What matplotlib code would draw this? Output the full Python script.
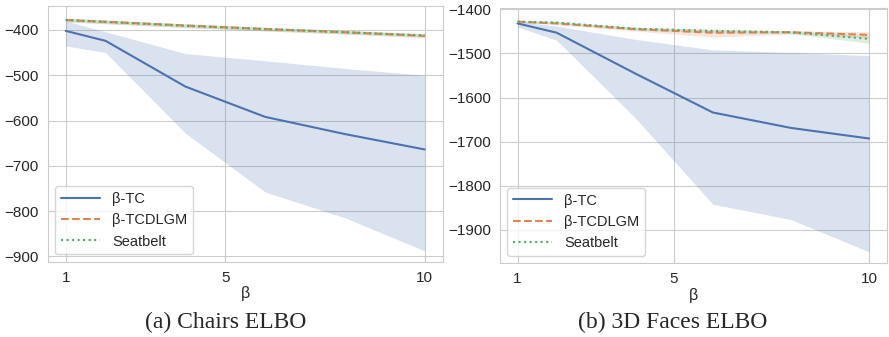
import matplotlib
matplotlib.use("Agg")
import matplotlib.pyplot as plt
import seaborn as sns

beta = [1, 2, 4, 6, 8, 10]

# Chairs ELBO
chairs_tc = [-402, -424, -525, -592, -630, -664]
chairs_tc_lo = [-435, -450, -628, -758, -815, -888]
chairs_tc_hi = [-380, -404, -452, -468, -485, -500]
chairs_dlgm = [-378, -382, -390, -398, -405, -413]
chairs_dlgm_lo = [-382, -386, -394, -402, -409, -417]
chairs_dlgm_hi = [-374, -378, -386, -394, -401, -409]
chairs_sb = [-378, -382, -391, -398, -405, -412]
chairs_sb_lo = [-382, -386, -395, -402, -409, -416]
chairs_sb_hi = [-374, -378, -387, -394, -401, -408]

# 3D Faces ELBO
faces_tc = [-1432, -1453, -1545, -1634, -1669, -1693]
faces_tc_lo = [-1440, -1470, -1645, -1842, -1877, -1950]
faces_tc_hi = [-1428, -1438, -1468, -1492, -1498, -1505]
faces_dlgm = [-1428, -1432, -1445, -1453, -1452, -1458]
faces_dlgm_lo = [-1430, -1435, -1449, -1463, -1456, -1465]
faces_dlgm_hi = [-1426, -1429, -1441, -1445, -1449, -1451]
faces_sb = [-1428, -1430, -1444, -1449, -1452, -1467]
faces_sb_lo = [-1430, -1433, -1447, -1453, -1455, -1477]
faces_sb_hi = [-1426, -1427, -1441, -1446, -1449, -1460]

captions = ["(a) Chairs ELBO", "(b) 3D Faces ELBO"]
caption_x = [0.254, 0.757]

sns.set_style("whitegrid")
plt.rcParams["font.family"] = ["Liberation Sans", "DejaVu Sans"]

blue, orange, green = sns.color_palette("deep")[:3]

fig = plt.figure(figsize=(8.89, 3.37), dpi=100)
ax1 = fig.add_axes([0.0537, 0.2234, 0.4443, 0.7588])
ax2 = fig.add_axes([0.5624, 0.2187, 0.4350, 0.7576])

panels = [
    (ax1, chairs_tc, chairs_tc_lo, chairs_tc_hi, chairs_dlgm, chairs_dlgm_lo, chairs_dlgm_hi,
     chairs_sb, chairs_sb_lo, chairs_sb_hi, (-912, -347), [-900, -800, -700, -600, -500, -400]),
    (ax2, faces_tc, faces_tc_lo, faces_tc_hi, faces_dlgm, faces_dlgm_lo, faces_dlgm_hi,
     faces_sb, faces_sb_lo, faces_sb_hi, (-1976, -1397), [-1900, -1800, -1700, -1600, -1500, -1400]),
]

for i, (ax, tc, tclo, tchi, dl, dllo, dlhi, sb, sblo, sbhi, ylim, yt) in enumerate(panels):
    ax.fill_between(beta, tclo, tchi, color=blue, alpha=0.2, linewidth=0)
    ax.fill_between(beta, dllo, dlhi, color=orange, alpha=0.2, linewidth=0)
    ax.fill_between(beta, sblo, sbhi, color=green, alpha=0.2, linewidth=0)
    ax.plot(beta, tc, color=blue, lw=1.5, label="β-TC")
    ax.plot(beta, dl, color=orange, lw=1.5, ls="--", label="β-TCDLGM")
    ax.plot(beta, sb, color=green, lw=1.5, ls=":", label="Seatbelt")
    ax.set_ylim(*ylim)
    ax.set_yticks(yt)
    ax.set_xticks([1, 5, 10])
    ax.tick_params(labelsize=11, pad=3)
    ax.set_xlabel("β", fontsize=11.5, labelpad=1)
    ax.legend(loc="lower left", fontsize=10.5, frameon=True, handlelength=2.7)
    # caption under each panel
    fig.text(caption_x[i], 0.042, captions[i], ha="center", va="center",
             fontsize=17, family="Liberation Serif")

fig.savefig("out.png", dpi=100)
